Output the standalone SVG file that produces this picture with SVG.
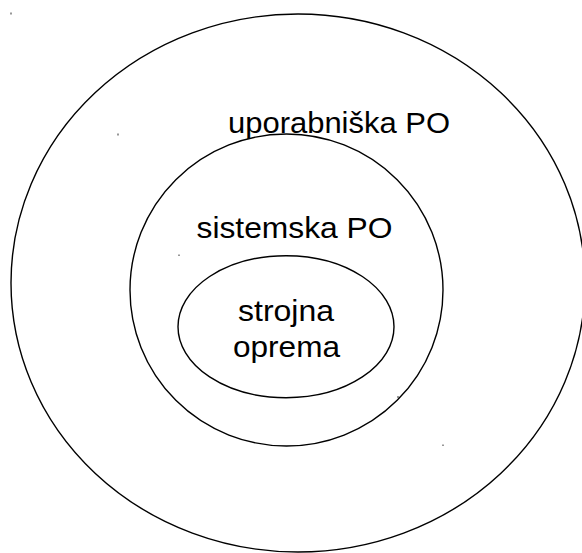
<svg xmlns="http://www.w3.org/2000/svg" width="582" height="553" viewBox="0 0 582 553">
<style>
.ring{fill:none;stroke:#000;stroke-width:1.4}
.lbl{font-family:"Liberation Sans",Arial,sans-serif;font-size:30px;fill:#000;text-anchor:middle}
.dot{fill:#333}
</style>
<rect width="582" height="553" fill="#fff"/>
<g id="uporabniska">
<ellipse class="ring" cx="298" cy="283" rx="287" ry="269"/>
<text class="lbl" x="339" y="133" textLength="222" lengthAdjust="spacingAndGlyphs">uporabniška PO</text>
</g>
<g id="sistemska">
<ellipse class="ring" cx="286.5" cy="290" rx="156.5" ry="156"/>
<text class="lbl" x="294.5" y="237.5" textLength="196" lengthAdjust="spacingAndGlyphs">sistemska PO</text>
</g>
<g id="strojna">
<ellipse class="ring" cx="286" cy="326.7" rx="108" ry="71"/>
<text class="lbl" x="286" y="321" textLength="96" lengthAdjust="spacingAndGlyphs">strojna</text>
<text class="lbl" x="286.5" y="356.5" textLength="107" lengthAdjust="spacingAndGlyphs">oprema</text>
</g>
<g id="connectors"></g>
<g id="specks">
<rect class="dot" x="10.5" y="12.5" width="1" height="2"/>
<rect class="dot" x="117.5" y="133.5" width="1" height="2"/>
<rect class="dot" x="178.5" y="254.5" width="1" height="1.5"/>
<rect class="dot" x="397.5" y="396" width="1" height="2"/>
<rect class="dot" x="442.5" y="444.5" width="1" height="1.5"/>
</g>
</svg>
